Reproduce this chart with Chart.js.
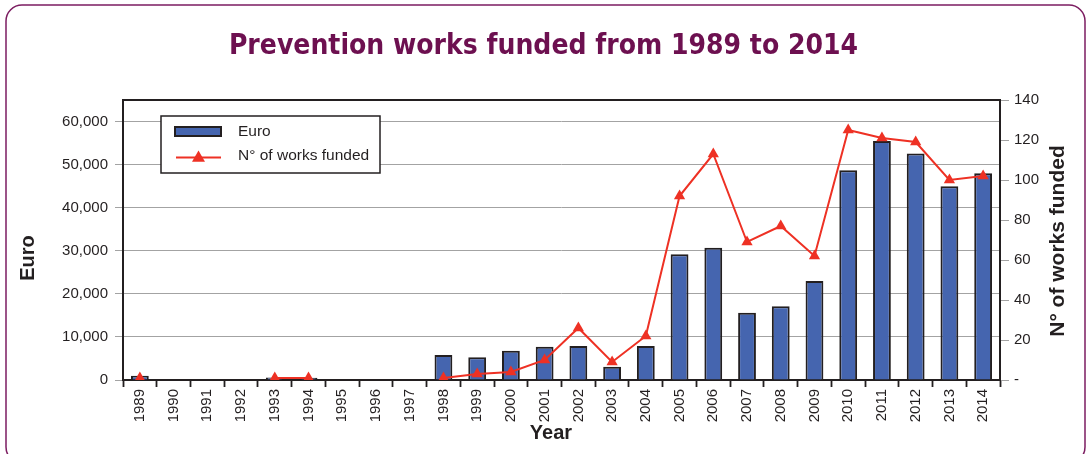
<!DOCTYPE html>
<html>
<head>
<meta charset="utf-8">
<title>Prevention works funded</title>
<script src="https://cdn.jsdelivr.net/npm/chart.js@4.4.1/dist/chart.umd.min.js"></script>
<style>
  html, body { margin: 0; padding: 0; background: #fff; }
  #wrap { position: relative; width: 1087px; height: 454px; }
</style>
</head>
<body>
<div id="wrap"><canvas id="fundChart" width="1087" height="454"></canvas></div>
<script>
// anni, importi in euro e numero di opere finanziate
const years = ['1989', '1990', '1991', '1992', '1993', '1994', '1995', '1996', '1997',
  '1998', '1999', '2000', '2001', '2002', '2003', '2004', '2005', '2006', '2007',
  '2008', '2009', '2010', '2011', '2012', '2013', '2014'];
const euro = [1000, null, null, null, 600, 500, null, null, null,
  5800, 5300, 6800, 7700, 7900, 3100, 7900, 29200, 30700, 15600,
  17100, 23000, 48700, 55500, 52600, 45000, 48000];
const worksFunded = [1, null, null, null, 1, 1, null, null, null,
  1, 3, 4, 10, 26, 9, 22, 92, 113, 69,
  77, 62, 125, 121, 119, 100, 102];

// tacche dei due assi verticali
const euroTicks = [0, 10000, 20000, 30000, 40000, 50000, 60000];
const worksTicks = [0, 20, 40, 60, 80, 100, 120, 140];

const BLUE = '#4565af';
const RED = '#ee3124';
const INK = '#231f20';
const GRID = '#a3a3a3';
const FONT = "'Liberation Sans', Arial, sans-serif";

// cornice, bordo dell'area, titoli degli assi e legenda
const decorPlugin = {
  id: 'decor',
  beforeDraw(chart) {
    const ctx = chart.ctx;
    ctx.save();
    ctx.fillStyle = '#fff';
    ctx.fillRect(0, 0, chart.width, chart.height);
    ctx.strokeStyle = '#7c1d61';
    ctx.lineWidth = 1.5;
    ctx.beginPath();
    ctx.roundRect(6, 5, 1079, 458, 16);
    ctx.stroke();
    ctx.restore();
  },
  beforeDatasetsDraw(chart) {
    const { ctx, chartArea: a } = chart;
    ctx.save();
    ctx.strokeStyle = INK;
    ctx.lineWidth = 2;
    ctx.strokeRect(a.left, a.top, a.right - a.left, a.bottom - a.top);
    ctx.restore();
  },
  afterDraw(chart) {
    const { ctx, chartArea: a } = chart;
    ctx.save();
    ctx.fillStyle = INK;
    ctx.textAlign = 'center';
    ctx.textBaseline = 'middle';

    // titoli degli assi
    ctx.font = 'bold 20px ' + FONT;
    ctx.fillText('Year', a.left + 428, a.bottom + 53);

    ctx.save();
    ctx.translate(28, a.top + 158);
    ctx.rotate(-Math.PI / 2);
    ctx.fillText('Euro', 0, 0);
    ctx.restore();

    ctx.save();
    ctx.font = 'bold 21px ' + FONT;
    ctx.translate(a.right + 58, a.top + 141);
    ctx.rotate(-Math.PI / 2);
    ctx.fillText('N° of works funded', 0, 0);
    ctx.restore();

    // legenda
    const lx = a.left + 38, ly = a.top + 16;
    ctx.fillStyle = '#fff';
    ctx.fillRect(lx, ly, 219, 57);
    ctx.strokeStyle = INK;
    ctx.lineWidth = 1.5;
    ctx.strokeRect(lx, ly, 219, 57);

    ctx.fillStyle = BLUE;
    ctx.lineWidth = 2;
    ctx.fillRect(lx + 14, ly + 11, 46, 9);
    ctx.strokeRect(lx + 14, ly + 11, 46, 9);

    ctx.strokeStyle = RED;
    ctx.lineWidth = 2;
    ctx.beginPath();
    ctx.moveTo(lx + 15, ly + 41.5);
    ctx.lineTo(lx + 60, ly + 41.5);
    ctx.stroke();
    ctx.fillStyle = RED;
    Chart.helpers.drawPoint(ctx, { pointStyle: 'triangle', radius: 7.5, borderWidth: 0 }, lx + 37.5, ly + 42);

    ctx.fillStyle = INK;
    ctx.textAlign = 'left';
    ctx.font = '15.5px ' + FONT;
    ctx.fillText('Euro', lx + 77, ly + 16);
    ctx.fillText('N° of works funded', lx + 77, ly + 40);
    ctx.restore();
  }
};

const ctx = document.getElementById('fundChart').getContext('2d');
const fundChart = new Chart(ctx, {
  type: 'bar',
  data: {
    labels: years,
    datasets: [{
      type: 'line',
      label: 'N° of works funded',
      data: worksFunded,
      yAxisID: 'y1',
      order: 0,
      borderColor: RED,
      borderWidth: 2,
      backgroundColor: RED,
      pointStyle: 'triangle',
      pointRadius: 6.5,
      pointBorderWidth: 0,
      pointBackgroundColor: RED,
      tension: 0,
      spanGaps: false
    }, {
      type: 'bar',
      label: 'Euro',
      data: euro,
      yAxisID: 'y',
      order: 1,
      backgroundColor: BLUE,
      borderColor: INK,
      borderWidth: 2,
      categoryPercentage: 0.8,
      barPercentage: 0.66
    }]
  },
  options: {
    responsive: false,
    animation: false,
    layout: { padding: 0 },
    plugins: {
      legend: { display: false },
      tooltip: { enabled: false },
      title: {
        display: true,
        text: 'Prevention works funded from 1989 to 2014',
        color: '#6d1050',
        font: { family: "'DejaVu Sans Condensed', 'Liberation Sans Narrow', 'DejaVu Sans', sans-serif", size: 28, weight: 'bold', lineHeight: 1.2 },
        padding: { top: 30.2, bottom: 36.2 }
      }
    },
    scales: {
      x: {
        afterFit(scale) { scale.height = 74; },
        border: { display: false },
        grid: {
          offset: true,
          drawOnChartArea: false,
          tickLength: 7,
          tickColor: INK,
          tickWidth: 1.8
        },
        ticks: {
          minRotation: 90,
          maxRotation: 90,
          padding: 2,
          color: INK,
          font: { family: FONT, size: 15 },
          autoSkip: false
        }
      },
      y: {
        position: 'left',
        min: 0,
        max: 65000,
        afterFit(scale) { scale.width = 123; },
        afterBuildTicks(scale) {
          scale.ticks = euroTicks.map(v => ({ value: v }));
        },
        border: { display: false },
        grid: { color: GRID, lineWidth: 1, tickLength: 8, tickColor: GRID },
        ticks: {
          padding: 7,
          color: INK,
          font: { family: FONT, size: 15 },
          callback: v => v.toLocaleString('en-US')
        }
      },
      y1: {
        position: 'right',
        min: 0,
        max: 140,
        afterFit(scale) { scale.width = 87; },
        afterBuildTicks(scale) {
          scale.ticks = worksTicks.map(v => ({ value: v }));
        },
        border: { display: false },
        grid: { drawOnChartArea: false, color: GRID, tickLength: 9, tickColor: GRID },
        ticks: {
          padding: 5,
          color: INK,
          font: { family: FONT, size: 15 },
          callback: v => (v === 0 ? '-' : v)
        }
      }
    }
  },
  plugins: [decorPlugin]
});
</script>
</body>
</html>
